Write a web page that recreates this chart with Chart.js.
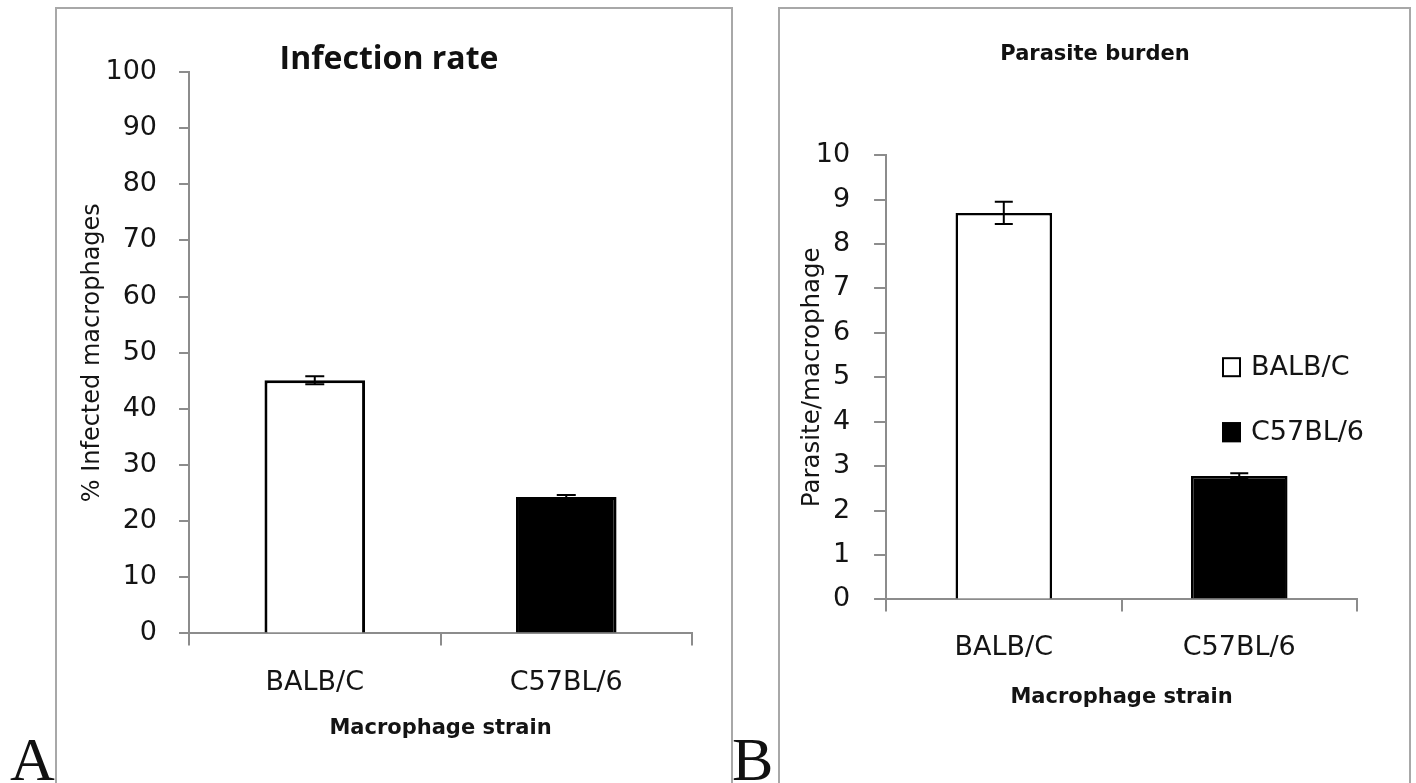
<!DOCTYPE html>
<html>
<head>
<meta charset="utf-8">
<script src="https://cdn.jsdelivr.net/npm/chart.js@4.4.0/dist/chart.umd.min.js"></script>
<style>
  html,body{margin:0;padding:0;background:#fff;width:1416px;height:783px;overflow:hidden}
  .frame{position:absolute;border:2px solid #a8a8a8;box-sizing:border-box}
  .wrap{position:absolute}
  .tag{position:absolute;font-family:"Liberation Serif",serif;font-size:62px;line-height:1;color:#111}
</style>
</head>
<body>
<div class="frame" style="left:55px;top:7px;width:678px;height:820px"></div>
<div class="frame" style="left:778px;top:7px;width:633px;height:820px"></div>
<div class="wrap" style="left:56px;top:8px;width:676px;height:775px"><canvas id="chartA"></canvas></div>
<div class="wrap" style="left:779px;top:8px;width:631px;height:775px"><canvas id="chartB"></canvas></div>
<div class="tag" style="left:10px;top:728px">A</div>
<div class="tag" style="left:732px;top:728px">B</div>

<script>
// data
const strains = ['BALB/C', 'C57BL/6'];
const infectionRate = [45.1, 24.3];   // % infected macrophages
const infectionErr  = [0.7, 0.35];
const parasiteBurden = [8.7, 2.78];   // parasites per macrophage
const parasiteErr    = [0.25, 0.06];
const barFill = ['#ffffff', '#000000'];

Chart.defaults.font.family = '"DejaVu Sans", sans-serif';
Chart.defaults.color = '#141414';

const AXIS = '#8c8c8c';

// simple +/- error bars on top of the bars
const errorBars = {
  id: 'errorBars',
  afterDatasetsDraw(chart, args, opts){
    const errs = opts.errors;
    if (!errs) return;
    const meta = chart.getDatasetMeta(0);
    const y = chart.scales.y;
    const ctx = chart.ctx;
    const vals = chart.data.datasets[0].data;
    ctx.save();
    ctx.strokeStyle = '#000';
    ctx.lineWidth = 2;
    meta.data.forEach((bar, i) => {
      const top = y.getPixelForValue(vals[i] + errs[i]);
      const bot = y.getPixelForValue(vals[i] - errs[i]);
      const w = opts.capWidth / 2;
      ctx.beginPath();
      ctx.moveTo(bar.x, top); ctx.lineTo(bar.x, bot);
      ctx.moveTo(bar.x - w, top); ctx.lineTo(bar.x + w, top);
      ctx.moveTo(bar.x - w, bot); ctx.lineTo(bar.x + w, bot);
      ctx.stroke();
    });
    ctx.restore();
  }
};

// legend sitting inside the plot area (panel B)
const innerLegend = {
  id: 'innerLegend',
  afterDraw(chart, args, opts){
    if (!opts.show) return;
    const {ctx, chartArea} = chart;
    const ds = chart.data.datasets[0];
    ctx.save();
    ctx.font = '27px "DejaVu Sans"';
    ctx.textBaseline = 'middle';
    chart.data.labels.forEach((lab, i) => {
      const x = chartArea.right + opts.dx;
      const cy = chartArea.top + opts.dy + i * opts.gap;
      ctx.fillStyle = ds.backgroundColor[i];
      ctx.fillRect(x, cy - 10, 19, 20);
      ctx.strokeStyle = '#000';
      ctx.lineWidth = 2;
      ctx.strokeRect(x + 1, cy - 9, 17, 18);
      ctx.fillStyle = '#141414';
      ctx.fillText(lab, x + 29, cy + 1);
    });
    ctx.restore();
  }
};

function xAxis(tickPad, titlePad){
  return {
    offset: true,
    grid: { offset: true, drawOnChartArea: false, drawTicks: true, tickLength: 12, color: AXIS, lineWidth: 2 },
    border: { display: true, color: AXIS, width: 2 },
    ticks: { padding: tickPad, font: { size: 27 }, maxRotation: 0 },
    title: { display: true, text: 'Macrophage strain', font: { size: 21, weight: 'bold' }, padding: titlePad }
  };
}

new Chart(document.getElementById('chartA'), {
  type: 'bar',
  data: { labels: strains, datasets: [{
    data: infectionRate, backgroundColor: barFill, borderColor: '#000', borderWidth: 3,
    barPercentage: 0.4, categoryPercentage: 1
  }]},
  options: {
    responsive: true, maintainAspectRatio: false, animation: false,
    layout: { padding: { top: 0, left: 30, right: 40, bottom: 42 } },
    plugins: {
      legend: { display: false }, tooltip: { enabled: false },
      title: { display: true, text: 'Infection rate', color: '#111',
        font: { family: '"Open Sans", sans-serif', size: 32, weight: 'bold', lineHeight: 0.75 },
        padding: { top: 40, bottom: 0 } },
      errorBars: { errors: infectionErr, capWidth: 19 }
    },
    scales: {
      x: xAxis(21, { top: -4, bottom: 0 }),
      y: {
        min: 0, max: 100,
        grid: { drawOnChartArea: false, drawTicks: true, tickLength: 10, color: AXIS, lineWidth: 2 },
        border: { display: true, color: AXIS, width: 2 },
        ticks: { stepSize: 10, padding: 22, font: { size: 27 } },
        title: { display: true, text: '% Infected macrophages', font: { size: 24 }, padding: { top: -7.4, bottom: -23.9 } }
      }
    }
  },
  plugins: [errorBars]
});

new Chart(document.getElementById('chartB'), {
  type: 'bar',
  data: { labels: strains, datasets: [{
    data: parasiteBurden, backgroundColor: barFill, borderColor: '#000', borderWidth: 2.5,
    barPercentage: 0.41, categoryPercentage: 1
  }]},
  options: {
    responsive: true, maintainAspectRatio: false, animation: false,
    layout: { padding: { top: 0, left: 14, right: 13, bottom: 73 } },
    plugins: {
      legend: { display: false }, tooltip: { enabled: false },
      title: { display: true, text: 'Parasite burden', color: '#111',
        font: { size: 21, weight: 'bold', lineHeight: 1.2 },
        padding: { top: 34, bottom: 88 } },
      errorBars: { errors: parasiteErr, capWidth: 18 },
      innerLegend: { show: true, dx: -135, dy: 212, gap: 65 }
    },
    scales: {
      x: xAxis(20, { top: 1, bottom: 0 }),
      y: {
        min: 0, max: 10,
        grid: { drawOnChartArea: false, drawTicks: true, tickLength: 12, color: AXIS, lineWidth: 2 },
        border: { display: true, color: AXIS, width: 2 },
        ticks: { stepSize: 1, padding: 24, font: { size: 27 } },
        title: { display: true, text: 'Parasite/macrophage', font: { size: 24.5 }, padding: { top: 5.3, bottom: -36 } }
      },
      // empty spacer on the right so the title sits where the original has it
      y2: {
        position: 'right', display: true,
        grid: { display: false }, border: { display: false }, ticks: { display: false },
        afterFit(s){ s.width = 40; }
      }
    }
  },
  plugins: [errorBars, innerLegend]
});
</script>
</body>
</html>
